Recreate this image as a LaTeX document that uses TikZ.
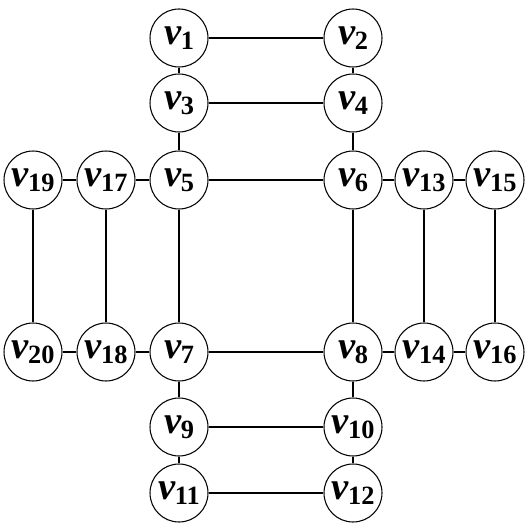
\documentclass[tikz,border=0pt]{standalone}
\usepackage{fontspec}
\setmainfont{Liberation Serif}
\usepackage{tikz}
\usetikzlibrary{calc,positioning}

\tikzset{
	vert/.style={draw, circle, semithick, fill=white, minimum size=1.16cm, inner sep=0pt, font=\fontsize{22}{24}\selectfont},
	edge/.style={line width=1.5pt}
}
\newcommand{\vlab}[1]{\textbf{\textit{v}\kern-0.02em\raisebox{-0.3ex}{\fontsize{15}{16}\selectfont #1}}}

\begin{document}
\begin{tikzpicture}[x=0.02cm, y=-0.02cm]
								\useasboundingbox (0,0) rectangle (530,530);

								\node[vert] (v1) at (179,38) {\vlab{1}};
								\node[vert] (v2) at (353,38) {\vlab{2}};
								\node[vert] (v3) at (179,103) {\vlab{3}};
								\node[vert] (v4) at (353,103) {\vlab{4}};
								\node[vert] (v5) at (179,180) {\vlab{5}};
								\node[vert] (v6) at (353,180) {\vlab{6}};
								\node[vert] (v19) at (33,180) {\vlab{19}};
								\node[vert] (v17) at (106,180) {\vlab{17}};
								\node[vert] (v13) at (424,180) {\vlab{13}};
								\node[vert] (v15) at (495,180) {\vlab{15}};

								\node[vert] (v20) at (33,352) {\vlab{20}};
								\node[vert] (v18) at (106,352) {\vlab{18}};
								\node[vert] (v7) at (179,352) {\vlab{7}};
								\node[vert] (v8) at (353,352) {\vlab{8}};
								\node[vert] (v14) at (424,352) {\vlab{14}};
								\node[vert] (v16) at (495,352) {\vlab{16}};
								\node[vert] (v9) at (179,427) {\vlab{9}};
								\node[vert] (v10) at (353,427) {\vlab{10}};
								\node[vert] (v11) at (179,493) {\vlab{11}};
								\node[vert] (v12) at (353,493) {\vlab{12}};

								% top block
								\draw[edge] (v1) -- (v2);
								\draw[edge] (v1) -- (v3);
								\draw[edge] (v2) -- (v4);
								\draw[edge] (v3) -- (v4);
								\draw[edge] (v3) -- (v5);
								\draw[edge] (v4) -- (v6);

								% middle square
								\draw[edge] (v5) -- (v6);
								\draw[edge] (v5) -- (v7);
								\draw[edge] (v6) -- (v8);
								\draw[edge] (v7) -- (v8);

								% left block
								\draw[edge] (v5) -- (v17);
								\draw[edge] (v17) -- (v19);
								\draw[edge] (v17) -- (v18);
								\draw[edge] (v19) -- (v20);
								\draw[edge] (v7) -- (v18);
								\draw[edge] (v18) -- (v20);

								% right block
								\draw[edge] (v6) -- (v13);
								\draw[edge] (v13) -- (v15);
								\draw[edge] (v13) -- (v14);
								\draw[edge] (v15) -- (v16);
								\draw[edge] (v8) -- (v14);
								\draw[edge] (v14) -- (v16);

								% bottom block
								\draw[edge] (v7) -- (v9);
								\draw[edge] (v8) -- (v10);
								\draw[edge] (v9) -- (v10);
								\draw[edge] (v9) -- (v11);
								\draw[edge] (v10) -- (v12);
								\draw[edge] (v11) -- (v12);
\end{tikzpicture}
\end{document}
